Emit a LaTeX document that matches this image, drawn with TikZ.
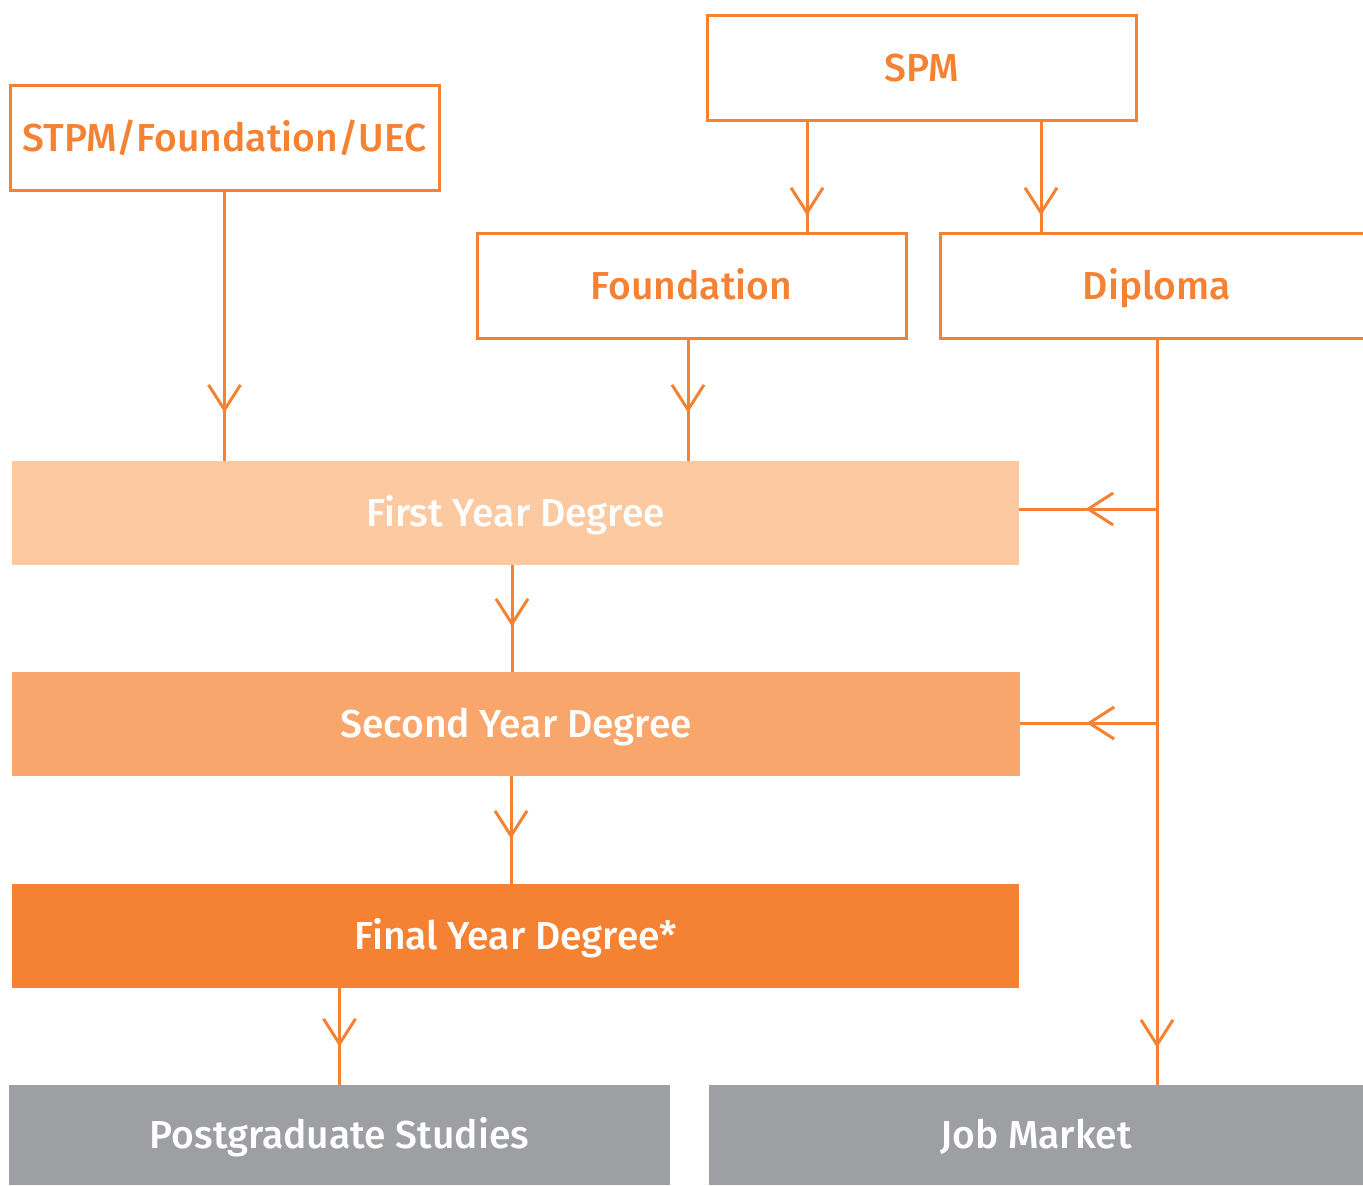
\documentclass[tikz,border=0pt]{standalone}
\usepackage{fontspec}
\setmainfont{Fira Sans Medium}
\usetikzlibrary{arrows.meta,decorations.markings}
\definecolor{brand}{HTML}{F58233}
\definecolor{peachA}{HTML}{FCC9A1}
\definecolor{peachB}{HTML}{F8A66B}
\definecolor{slate}{HTML}{9E9FA3}
\begin{document}
\begin{tikzpicture}[x=0.5pt,y=-0.5pt,
  label font/.style={font=\fontsize{19.5}{19.5}\selectfont,
    text height=13.8pt, text depth=0pt},
  box/.style={draw=brand, line width=1.5pt, minimum width=214.5pt,
    minimum height=52.5pt, inner sep=0pt, text=brand, label font},
  stage/.style={fill=#1, minimum width=503.5pt, minimum height=52pt,
    inner sep=0pt, text=white, label font},
  exit/.style={fill=slate, minimum height=50pt, inner sep=0pt,
    text=white, label font},
  link/.style={draw=brand, line width=1.5pt},
  barb/.style={postaction={decorate, decoration={markings,
    mark=at position -#1 with {\arrow{Straight Barb[length=12.5pt,width=16pt]}}}}}
]
\useasboundingbox (0,0) rectangle (1363,1185);
\clip (0,0) rectangle (1363,1185);

% entry qualifications
\node[box] (spm)  at (921.5,67.5)  {SPM};
\node[box] (stpm) at (224.5,137.5) {STPM/Foundation/UEC};
\node[box] (found) at (691.5,285.5) {Foundation};
\node[box, minimum width=217pt] (dip) at (1157,285.5) {Diploma};

% degree years
\node[stage=peachA] (first)  at (515.5,513) {First Year Degree};
\node[stage=peachB, minimum width=504pt] (second) at (516,724) {Second Year Degree};
\node[stage=brand] (final)  at (515.5,936) {Final Year Degree*};

% destinations
\node[exit, minimum width=330.5pt] (post) at (339.5,1135) {Postgraduate Studies};
\node[exit, minimum width=327pt] (job) at (1036,1135) {Job Market};

% guide columns
\coordinate (gA) at (807,0);
\coordinate (gB) at (1041,0);
\coordinate (gF) at (688,0);
\coordinate (g1) at (512,0);
\coordinate (g2) at (511,0);

% connectors
\draw[link, barb=8pt]  (spm.south -| gA) -- (found.north -| gA);
\draw[link, barb=8pt]  (spm.south -| gB) -- (dip.north -| gB);
\draw[link, barb=24pt] (stpm.south) -- (stpm.south |- first.north);
\draw[link, barb=24pt] (found.south -| gF) -- (first.north -| gF);
\draw[link, barb=18.5pt] (dip.south) -- (dip.south |- job.north);
\path (first.east) ++(0,-4) coordinate (e1);
\path (second.east) ++(0,-1) coordinate (e2);
\coordinate (j1) at (dip.south |- e1);
\coordinate (j2) at (dip.south |- e2);
\draw[link, barb=33pt] (j1) -- (e1);
\draw[link, barb=33pt] (j2) -- (e2);
\draw[link, barb=22.5pt] (first.south -| g1) -- (second.north -| g1);
\draw[link, barb=22.5pt] (second.south -| g2) -- (final.north -| g2);
\draw[link, barb=19pt] (post.north |- final.south) -- (post.north);
\end{tikzpicture}
\end{document}
